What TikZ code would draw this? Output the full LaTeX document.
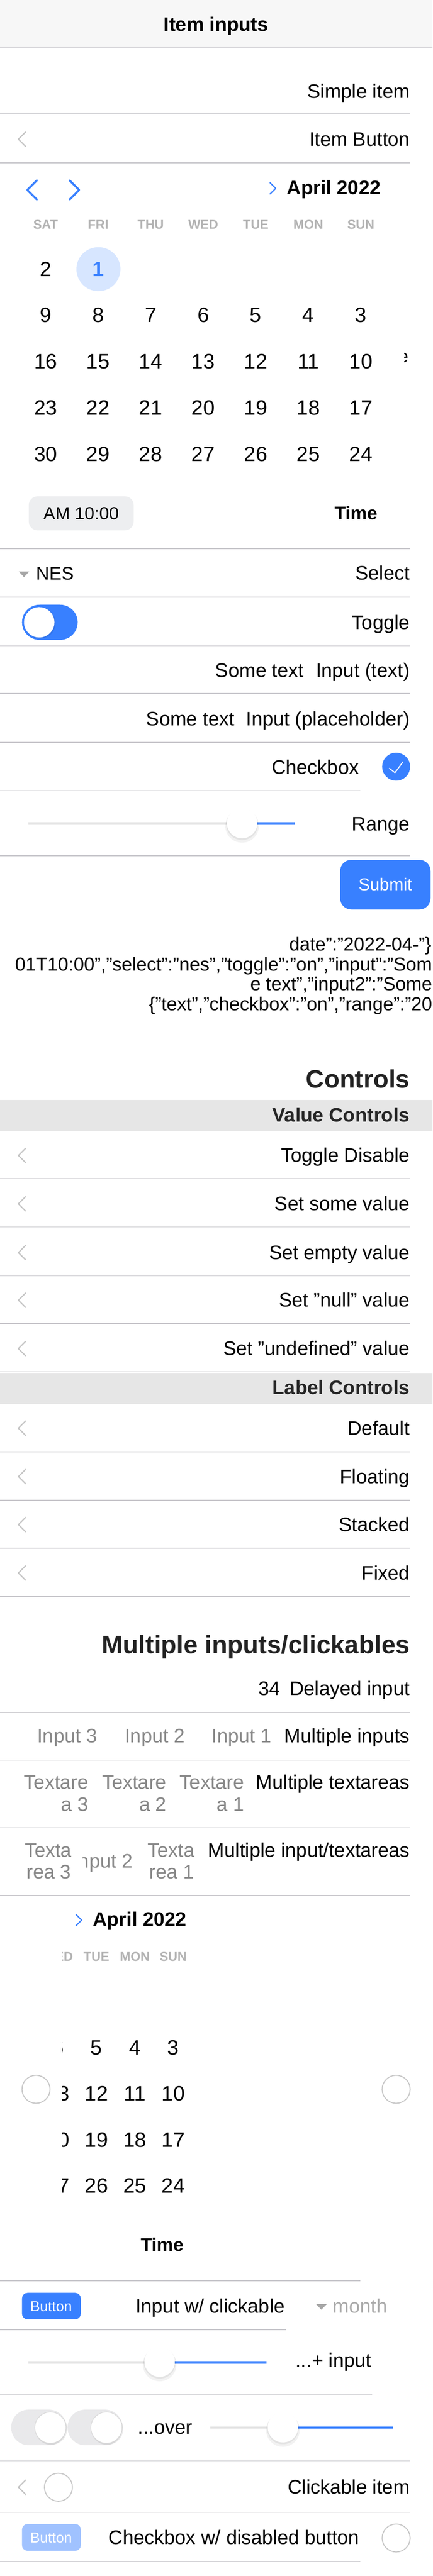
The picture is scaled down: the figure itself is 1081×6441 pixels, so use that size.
\documentclass[tikz,border=0pt]{standalone}
\usepackage{fontspec}
\setmainfont{Liberation Sans}
\definecolor{primary}{HTML}{3880FF}
\definecolor{sepc}{HTML}{C8C7CC}
\definecolor{headbg}{HTML}{F7F7F7}
\definecolor{bandbg}{HTML}{E6E6E6}
\definecolor{bandt}{HTML}{262626}
\definecolor{headc}{HTML}{222222}
\definecolor{dayh}{HTML}{B3B3B3}
\definecolor{chevc}{HTML}{C5C5C5}
\definecolor{phc}{HTML}{888888}
\definecolor{monthc}{HTML}{AAAAAA}
\definecolor{trig}{HTML}{A6A6A6}
\definecolor{pillbg}{HTML}{EDEEF0}
\definecolor{selbg}{HTML}{D7E6FF}
\definecolor{togoff}{HTML}{E9E9EB}
\definecolor{disb}{HTML}{A0C2FF}
\definecolor{trackg}{HTML}{E3E3E3}
\definecolor{radioc}{HTML}{C8C8C8}
\newcommand\fsz[1]{\fontsize{#1}{#1}\selectfont}
\tikzset{
  txt/.style={inner sep=0pt, outer sep=0pt, font=\fsz{49}, text=black},
  lbl/.style={txt, anchor=base east},
  lblw/.style={txt, anchor=base west},
  lblc/.style={txt, anchor=base},
  boldf/.style={font=\fsz{49}\bfseries},
  ph/.style={lbl, text=phc},
  day/.style={txt, anchor=base, font=\fsz{52}},
  dayhead/.style={txt, anchor=base, font=\fsz{32}\bfseries, text=dayh},
  sepl/.style={draw=sepc, line width=2pt},
  chev/.style={draw=chevc, line width=3pt, line cap=round, line join=round},
  bluechev/.style={draw=primary, line width=5pt, line cap=round, line join=round},
  smallchev/.style={draw=primary, line width=3pt, line cap=round, line join=round},
  radio/.style={draw=radioc, line width=2.5pt},
  trackgray/.style={draw=trackg, line width=6pt},
  trackblue/.style={draw=primary, line width=6pt},
}
\newcommand\knob[2]{%
  \fill[black, opacity=0.05] (#1,#2+7) circle (42);
  \fill[black, opacity=0.06] (#1,#2+3) circle (39.5);
  \fill[white] (#1,#2) circle (38);
}
\begin{document}
\begin{tikzpicture}[x=1pt,y=-1pt]
\useasboundingbox (0,0) rectangle (1081,6441);
\fill[white] (0,0) rectangle (1081,6441);

% ---------- header
\fill[headbg] (0,0) rectangle (1081,119);
\draw[sepl] (0,119) -- (1081,119);
\node[lblc, boldf] (title) at (540,78) {Item inputs};

% ---------- simple rows
\node[lbl] (simple) at (1024,245) {Simple item};
\draw[sepl] (0,285) -- (1026,285);
\draw[chev] (64,330) -- (46,348) -- (64,366);
\node[lbl] (itembtn) at (1024,365) {Item Button};
\draw[sepl] (0,407) -- (1026,407);

% ---------- calendar 1
\draw[bluechev] (92,451) -- (68,475) -- (92,499);
\draw[bluechev] (174,451) -- (198,475) -- (174,499);
\draw[smallchev] (675,457) -- (689,471) -- (675,485);
\node[lblw, boldf] (month1) at (717,486) {April 2022};
\foreach \d [count=\i from 0] in {SAT,FRI,THU,WED,TUE,MON,SUN}
  \node[dayhead] (h\d) at (114+131.3*\i,572) {\d};
\fill[selbg] (246,673) circle (55);
\node[day, font=\fsz{52}\bfseries, text=primary] (d1) at (246,691) {1};
\node[day] (d2) at (114,691) {2};
\foreach \s [count=\i from 0] in {9,8,7,6,5,4,3}
  \node[day] (d\s) at (114+131.3*\i,806) {\s};
\foreach \s [count=\i from 0] in {16,15,14,13,12,11,10}
  \node[day] (d\s) at (114+131.3*\i,922) {\s};
\foreach \s [count=\i from 0] in {23,22,21,20,19,18,17}
  \node[day] (d\s) at (114+131.3*\i,1038) {\s};
\foreach \s [count=\i from 0] in {30,29,28,27,26,25,24}
  \node[day] (d\s) at (114+131.3*\i,1153) {\s};
\begin{scope}
  \clip (1010,878) rectangle (1024,912);
  \node[lblw, font=\fsz{44}] (eart) at (996,906) {e};
\end{scope}

% ---------- time
\fill[pillbg, rounded corners=22pt] (72,1241) rectangle (334,1326);
\node[lblc, font=\fsz{44}] (am) at (203,1299) {AM 10:00};
\node[lbl, font=\fsz{46}\bfseries] (time1) at (943,1299) {Time};
\draw[sepl] (0,1372) -- (1026,1372);

% ---------- select
\fill[trig] (47,1429) -- (73,1429) -- (60,1443) -- cycle;
\node[lblw, font=\fsz{46}] (nes) at (90,1450) {NES};
\node[lbl] (select) at (1024,1450) {Select};
\draw[sepl] (0,1493) -- (1026,1493);

% ---------- toggle
\fill[primary, rounded corners=44pt] (55,1512) rectangle (194,1600);
\fill[black, opacity=0.08] (100,1558) circle (39);
\fill[white] (98,1556) circle (38);
\node[lbl] (toggle) at (1024,1573) {Toggle};
\draw[sepl] (0,1615) -- (1026,1615);

% ---------- inputs
\node[lbl] (st1) at (759,1693) {Some text};
\node[lbl] (inp1) at (1024,1693) {Input (text)};
\draw[sepl] (0,1734) -- (1026,1734);
\node[lbl] (st2) at (586,1814) {Some text};
\node[lbl] (inp2) at (1024,1814) {Input (placeholder)};
\draw[sepl] (0,1856) -- (1026,1856);

% ---------- checkbox
\node[lbl] (cbx) at (897,1935) {Checkbox};
\fill[primary] (990,1917) circle (35);
\draw[white, line width=2.5pt, line cap=round, line join=round] (973,1921) -- (987,1932) -- (1007,1905);
\draw[sepl] (0,1977) -- (900,1977);

% ---------- range
\draw[trackgray] (71,2059) -- (605,2059);
\draw[trackblue] (605,2059) -- (737,2059);
\knob{605}{2058}
\node[lbl] (range) at (1024,2077) {Range};
\draw[sepl] (0,2140) -- (1026,2140);

% ---------- submit
\fill[primary, rounded corners=28pt] (850,2150) rectangle (1076,2274);
\node[lblc, font=\fsz{43}, text=white] (submit) at (963,2226) {Submit};

% ---------- json
\node[lbl, font=\fsz{47}] (j1) at (1078,2377) {date":"2022-04-"\}};
\node[lbl, font=\fsz{47}] (j2) at (1080,2427) {01T10:00","select":"nes","toggle":"on","input":"Som};
\node[lbl, font=\fsz{47}] (j3) at (1080,2477) {e text","input2":"Some};
\node[lbl, font=\fsz{47}] (j4) at (1080,2527) {\{"text","checkbox":"on","range":"20};

% ---------- controls
\node[lbl, font=\fsz{63}\bfseries, text=headc] (controls) at (1024,2720) {Controls};
\fill[bandbg] (0,2750) rectangle (1081,2827);
\node[lbl, boldf, text=bandt] (vc) at (1024,2805) {Value Controls};
\foreach \yy/\tx/\nm in {2889/{Toggle Disable}/ra, 3010/{Set some value}/rb, 3132/{Set empty value}/rc, 3251/{Set "null" value}/rd, 3372/{Set "undefined" value}/re}{
  \draw[chev] (64,\yy-18) -- (46,\yy) -- (64,\yy+18);
  \node[lbl] (\nm) at (1024,\yy+17) {\tx};
  \draw[sepl] (0,\yy+58) -- (1026,\yy+58);
}
\fill[bandbg] (0,3433) rectangle (1081,3510);
\node[lbl, boldf, text=bandt] (lc) at (1024,3487) {Label Controls};
\foreach \yy/\tx/\nm in {3571/Default/la, 3692/Floating/lb, 3812/Stacked/lcc, 3933/Fixed/ld}{
  \draw[chev] (64,\yy-18) -- (46,\yy) -- (64,\yy+18);
  \node[lbl] (\nm) at (1024,\yy+17) {\tx};
  \draw[sepl] (0,\yy+59) -- (1026,\yy+59);
}

% ---------- multiple inputs
\node[lbl, font=\fsz{63.5}\bfseries, text=headc] (multi) at (1024,4134) {Multiple inputs/clickables};
\node[lbl] (n34) at (700,4239) {34};
\node[lbl] (delayed) at (1024,4239) {Delayed input};
\draw[sepl] (0,4282) -- (1026,4282);

\node[ph] (in3) at (243,4357) {Input 3};
\node[ph] (in2) at (462,4357) {Input 2};
\node[ph] (in1) at (679,4357) {Input 1};
\node[lbl] (mi) at (1024,4357) {Multiple inputs};
\draw[sepl] (0,4401) -- (1026,4401);

\node[ph] (ta3a) at (221,4473) {Textare};
\node[ph] (ta3b) at (221,4529) {a 3};
\node[ph] (ta2a) at (416,4473) {Textare};
\node[ph] (ta2b) at (416,4529) {a 2};
\node[ph] (ta1a) at (610,4473) {Textare};
\node[ph] (ta1b) at (610,4529) {a 1};
\node[lbl] (mt) at (1024,4473) {Multiple textareas};
\draw[sepl] (0,4570) -- (1026,4570);

\node[ph] (tb3a) at (179,4643) {Texta};
\node[ph] (tb3b) at (178,4698) {rea 3};
\begin{scope}
  \clip (207,4600) rectangle (345,4700);
  \node[ph] (tbin2) at (332,4670) {Input 2};
\end{scope}
\node[ph] (tb1a) at (486,4643) {Texta};
\node[ph] (tb1b) at (485,4698) {rea 1};
\node[lbl] (mit) at (1024,4643) {Multiple input/textareas};
\draw[sepl] (0,4739) -- (1026,4739);

% ---------- calendar 2
\draw[smallchev] (190,4787) -- (204,4801) -- (190,4815);
\node[lblw, boldf] (month2) at (232,4816) {April 2022};
\begin{scope}
  \clip (155,4850) rectangle (1081,5700);
  \foreach \d [count=\i from 0] in {WED,TUE,MON,SUN}
    \node[dayhead] (k\d) at (145+96*\i,4903) {\d};
  \foreach \s [count=\i from 0] in {6,5,4,3}
    \node[day] (e\s) at (145+96*\i,5138) {\s};
  \foreach \s [count=\i from 0] in {13,12,11,10}
    \node[day] (e\s) at (145+96*\i,5253) {\s};
  \foreach \s [count=\i from 0] in {20,19,18,17}
    \node[day] (e\s) at (145+96*\i,5369) {\s};
  \foreach \s [count=\i from 0] in {27,26,25,24}
    \node[day] (e\s) at (145+96*\i,5483) {\s};
  \node[lbl, font=\fsz{46}\bfseries] (time2) at (459,5629) {Time};
\end{scope}
\draw[radio] (90,5224) circle (35);
\draw[radio] (990,5224) circle (35);
\draw[sepl] (0,5703) -- (900,5703);

% ---------- input w/ clickable
\fill[primary, rounded corners=14pt] (55,5733) rectangle (202,5799);
\node[lblc, font=\fsz{36}, text=white] (btn1) at (128,5779) {Button};
\node[lbl] (iwc) at (712,5783) {Input w/ clickable};
\fill[trig] (790,5761) -- (817,5761) -- (803,5775) -- cycle;
\node[lblw, text=monthc] (monthsel) at (832,5783) {month};
\draw[sepl] (0,5825) -- (715,5825);

% ---------- slider + input
\draw[trackgray] (71,5907) -- (399,5907);
\draw[trackblue] (399,5907) -- (666,5907);
\knob{399}{5905}
\node[lbl] (plusin) at (928,5919) {...+ input};
\draw[sepl] (0,5987) -- (930,5987);

% ---------- toggles + over + slider
\fill[togoff, rounded corners=44pt] (28,6025) rectangle (166,6114);
\fill[black, opacity=0.08] (128,6073) circle (40);
\fill[white] (126,6070) circle (39);
\draw[black!15, line width=1.5pt] (126,6070) circle (39);
\fill[togoff, rounded corners=44pt] (169,6025) rectangle (306,6114);
\fill[black, opacity=0.08] (268,6073) circle (40);
\fill[white] (266,6070) circle (39);
\draw[black!15, line width=1.5pt] (266,6070) circle (39);
\node[lbl] (over) at (481,6086) {...over};
\draw[trackgray] (526,6070) -- (707,6070);
\draw[trackblue] (707,6070) -- (981,6070);
\knob{707}{6069}
\draw[sepl] (0,6153) -- (1026,6153);

% ---------- clickable item
\draw[chev] (64,6201) -- (46,6219) -- (64,6237);
\draw[radio] (146,6219) circle (35);
\node[lbl] (clickable) at (1024,6236) {Clickable item};
\draw[sepl] (0,6282) -- (1026,6282);

% ---------- checkbox w/ disabled button
\fill[disb, rounded corners=14pt] (55,6311) rectangle (202,6378);
\node[lblc, font=\fsz{36}, text=white] (btn2) at (128,6358) {Button};
\node[lbl] (cbdis) at (898,6362) {Checkbox w/ disabled button};
\draw[radio] (990,6346) circle (35);
\draw[sepl] (0,6405) -- (900,6405);
\end{tikzpicture}
\end{document}
